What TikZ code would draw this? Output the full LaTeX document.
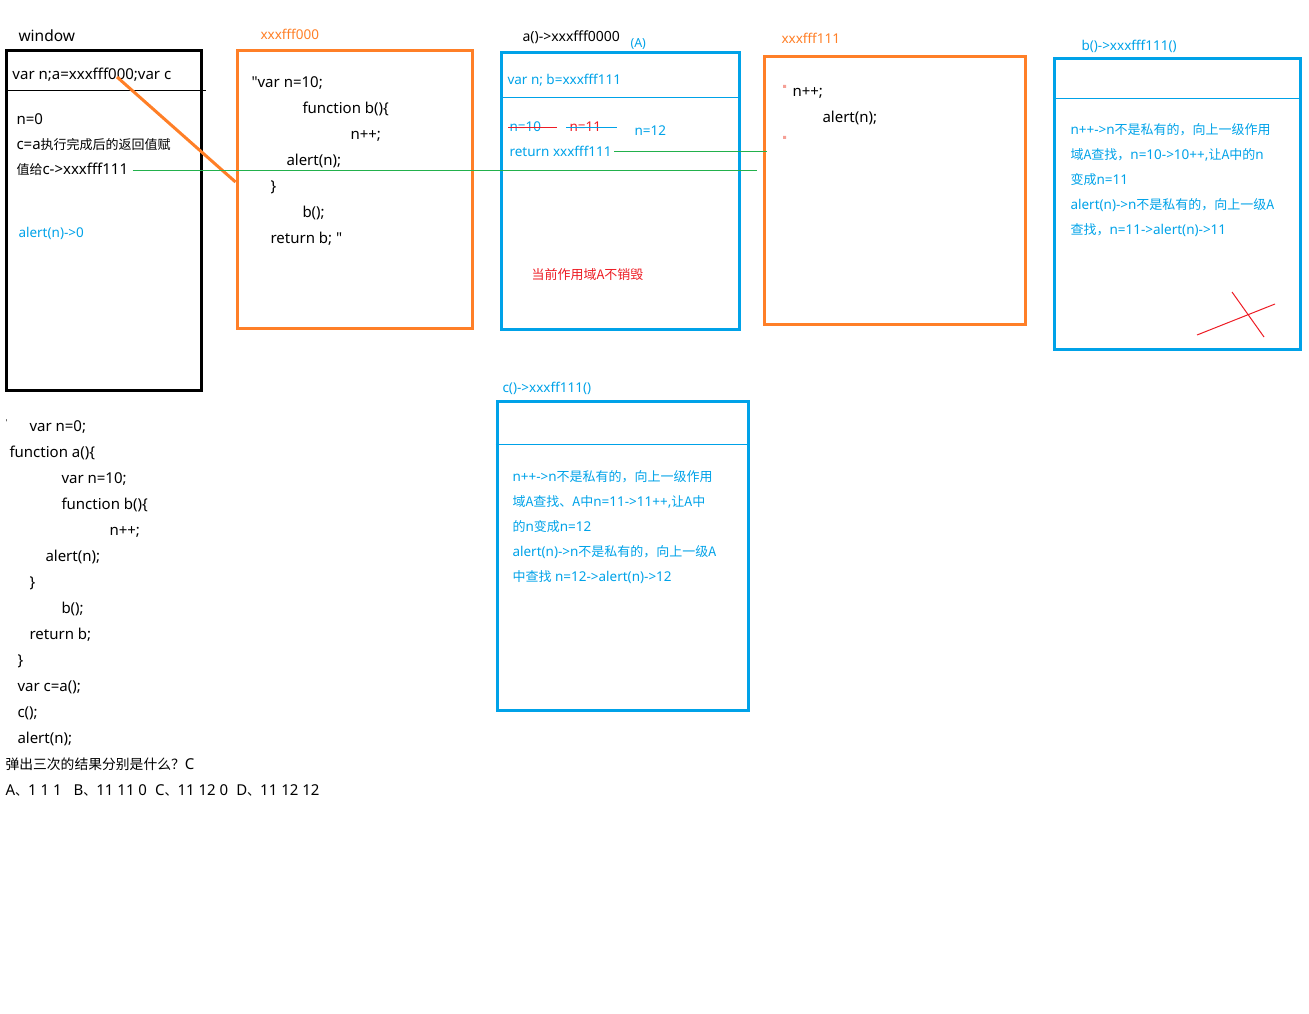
\documentclass[tikz,border=0pt]{standalone}
\usepackage{fontspec}
\setmainfont{Noto Sans}[Ligatures=TeXOff]
\newfontfamily\cjk{Noto Sans CJK SC}
\usetikzlibrary{positioning}
\definecolor{paintorange}{RGB}{255,127,39}
\definecolor{paintblue}{RGB}{0,162,232}
\definecolor{paintgreen}{RGB}{34,177,76}
\definecolor{paintred}{RGB}{237,28,36}
\definecolor{paintpink}{RGB}{245,160,150}
\newcommand\zh[1]{{\cjk\fontsize{13}{25}\selectfont #1}}
\tikzset{every picture/.style={line width=1pt}}

\begin{document}
\begin{tikzpicture}[x=1pt,y=-1pt,
    txt/.style={inner sep=0pt,anchor=base west,yshift=-1.5pt,font=\fontsize{15}{26}\selectfont},
    note/.style={txt,text=paintblue,font=\fontsize{13.5}{25}\selectfont},
    tag/.style={txt,font=\fontsize{13.5}{16}\selectfont},
    blackbox/.style={draw=black,line width=3pt,inner sep=0pt},
    heapbox/.style={draw=paintorange,line width=3pt,inner sep=0pt},
    scopebox/.style={draw=paintblue,line width=3pt,inner sep=0pt},
    link/.style={paintgreen,line width=1pt}]
    \useasboundingbox (0,0) rectangle (1309,1014);

    % global scope
    \node[txt,font=\fontsize{15.5}{18}\selectfont] (wlabel) at (18,40) {window};
    \node[blackbox,minimum width=195pt,minimum height=340pt] (win) at (104,220.5) {};
    \draw (win.west |- 0,91) -- ([xshift=3pt]win.east |- 0,91);
    \node[txt] (avar) at (12,78) {var n;a=xxxfff000;var c};
    \node[txt] (n0) at (16,123) {n=0};
    \node[txt] (cret) at (16,148) {c=a\zh{执行完成后的返回值赋}};
    \node[txt] (give) at (16,173) {\zh{值给}c->xxxfff111};
    \node[note] (alert0) at (18,236) {alert(n)->0};
    \coordinate (aptr) at (117,77);

    % heap xxxfff000
    \node[tag,text=paintorange] (f000lbl) at (260,38) {xxxfff000};
    \node[heapbox,minimum width=235pt,minimum height=278pt] (f000) at (354.5,189.5) {};
    \foreach \x/\y/\t [count=\i] in {251/81/{"var n=10;},302/107/{function b()\{},
        350/133/{n++;},286/159/{alert(n);},270/185/{\}},302/211/{b();},270/237/{return b; "}}
        \node[txt] (fa\i) at (\x,\y+5) {\t};

    % scope A
    \node[txt,font=\fontsize{14}{16}\selectfont] (alabel) at (522,40) {a()->xxxfff0000};
    \node[txt,text=paintblue,font=\fontsize{12.5}{14}\selectfont] (Atag) at (630,46) {(A)};
    \node[scopebox,minimum width=238pt,minimum height=277pt] (scA) at (620.5,191) {};
    \draw[paintblue] ([xshift=3pt]scA.west |- 0,98) -- (scA.east |- 0,98);
    \node[note] (avars) at (507,83) {var n; b=xxxfff111};
    \node[note] (n10) at (509,130) {n=10};
    \node[note,text=paintred] (n11) at (569,130) {n=11};
    \node[note] (n12) at (634,134) {n=12};
    \node[note] (ret) at (509,155) {return xxxfff111};
    \node[txt,text=paintred] (keepA) at (531,278) {\zh{当前作用域A不销毁}};
    \draw[paintred] ([xshift=-1pt,yshift=4pt]n10.base west) -- ++(49,0);
    \draw[paintblue] ([xshift=-3pt,yshift=4pt]n11.base west) -- ++(51,0);

    % heap xxxfff111
    \node[tag,text=paintorange] (f111lbl) at (781,42) {xxxfff111};
    \node[heapbox,minimum width=261pt,minimum height=267pt] (f111) at (894.5,190.5) {};
    \node[txt] (fb1) at (792,95) {n++;};
    \node[txt] (fb2) at (822,121) {alert(n);};
    \fill[paintpink] (783,85) rectangle ++(3,3) (783,136) rectangle ++(3,3);

    % links
    \draw[paintorange,line width=3pt] (aptr) -- (f000.west |- 0,182);
    \draw[link] ([xshift=4pt,yshift=-1pt]give.east) -- ([xshift=-6pt,yshift=-1pt]give.east -| f111.west);
    \draw[link] ([xshift=2pt]ret.east) -- ([xshift=4pt]ret.east -| f111.west);

    % scope b
    \node[tag,text=paintblue] (blabel) at (1081,49) {b()->xxxfff111()};
    \node[scopebox,minimum width=246pt,minimum height=290pt] (scB) at (1177,204) {};
    \draw[paintblue] ([xshift=3pt]scB.west |- 0,99) -- (scB.east |- 0,99);
    \node[note,align=left,anchor=north west] (bnote) at (1070,122)
        {n++->n\zh{不是私有的，向上一级作用}\\
         \zh{域A查找，}n=10->10++,\zh{让A中的}n\\
         \zh{变成}n=11\\
         alert(n)->n\zh{不是私有的，向上一级A}\\
         \zh{查找，}n=11->alert(n)->11};
    \draw[paintred] (1197,335) -- (1275,304) (1232,292) -- (1264,337);

    % scope c
    \node[tag,text=paintblue] (clabel) at (502,391) {c()->xxxff111()};
    \node[scopebox,minimum width=251pt,minimum height=309pt] (scC) at (622.5,555.5) {};
    \draw[paintblue] (scC.west |- 0,444) -- (scC.east |- 0,444);
    \node[note,align=left,anchor=north west] (cnote) at (512,469)
        {n++->n\zh{不是私有的，向上一级作用}\\
         \zh{域A查找、A中}n=11->11++,\zh{让A中}\\
         \zh{的}n\zh{变成}n=12\\
         alert(n)->n\zh{不是私有的，向上一级A}\\
         \zh{中查找} n=12->alert(n)->12};

    % source code and question
    \node[txt,font=\fontsize{8}{8}\selectfont] (tick) at (5,424) {'};
    \foreach \x/\y/\t [count=\i] in {29/425/{var n=0;},9/451/{function a()\{},
        61/477/{var n=10;},61/503/{function b()\{},109/529/{n++;},45/555/{alert(n);},
        29/581/{\}},61/607/{b();},29/633/{return b;},17/659/{\}},17/685/{var c=a();},
        17/711/{c();},17/737/{alert(n);}}
        \node[txt] (code\i) at (\x,\y+5) {\t};
    \node[txt] (quest) at (5,768) {{\cjk\fontsize{13.8}{25}\selectfont 弹出三次的结果分别是什么？}C};
    \node[txt] (opts) at (5,794) {A\zh{、}1 1 1\hspace{12pt}B\zh{、}11 11 0\hspace{8pt}C\zh{、}11 12 0\hspace{8pt}D\zh{、}11 12 12};
\end{tikzpicture}
\end{document}
